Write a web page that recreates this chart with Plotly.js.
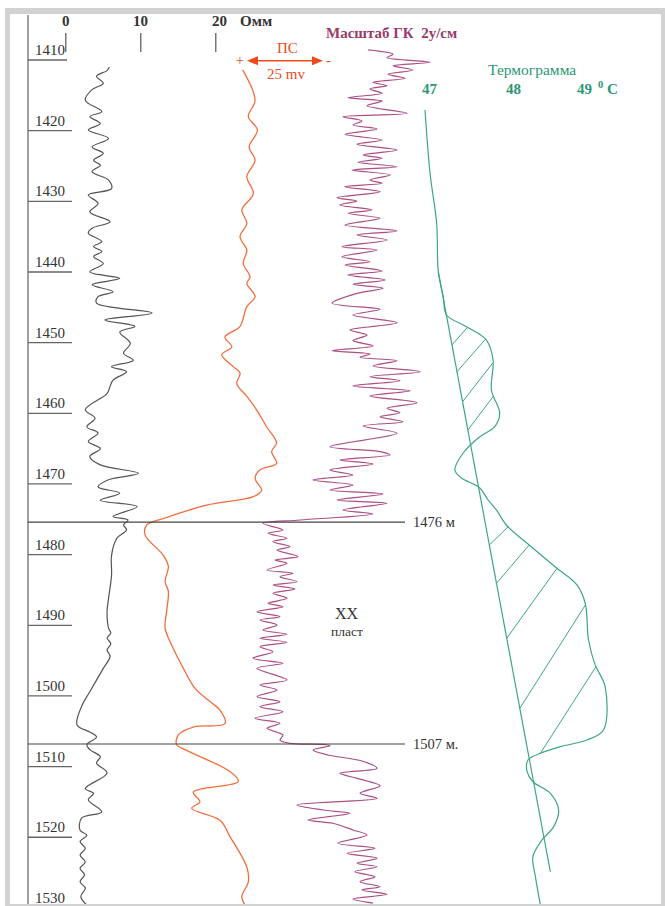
<!DOCTYPE html>
<html>
<head>
<meta charset="utf-8">
<script src="https://cdn.plot.ly/plotly-3.0.1.min.js"></script>
<style>html,body{margin:0;padding:0;background:#fff;}#chart{width:665px;height:906px;}</style>
</head>
<body>
<div id="chart"></div>
<script>
// ---------- DATA ----------
const depthTicks = [1410,1420,1430,1440,1450,1460,1470,1480,1490,1500,1510,1520,1530];
const resTicks = [0,10,20];
const tempTicks = [47,48,49];
const zoneDepths = [1475.4,1506.8];
const zoneLabels = ['1476 м','1507 м.'];

// Resistivity (Ohm·m)
const resDepth = [1411.0,1411.5,1412.3,1413.3,1414.2,1415.7,1417.3,1418.0,1419.0,1419.9,1421.1,1422.3,1423.2,1424.2,1424.9,1425.8,1427.0,1428.2,1429.1,1430.3,1431.5,1432.9,1433.8,1434.5,1435.7,1436.4,1437.1,1437.8,1438.8,1440.0,1440.9,1441.8,1442.8,1443.5,1444.4,1445.8,1446.8,1447.7,1448.5,1450.1,1451.5,1452.5,1453.4,1454.1,1455.3,1456.2,1457.2,1459.5,1460.7,1461.9,1462.8,1464.0,1465.0,1466.1,1467.3,1468.5,1469.4,1470.4,1471.3,1472.3,1473.2,1474.6,1475.1,1475.8,1476.5,1477.7,1480.1,1482.9,1486.2,1488.1,1490.4,1491.1,1491.8,1492.6,1493.5,1494.4,1496.1,1499.4,1501.5,1504.1,1505.1,1505.8,1506.9,1507.6,1508.6,1509.5,1510.9,1513.1,1513.8,1514.7,1516.4,1517.3,1519.0,1519.7,1520.6,1521.6,1522.5,1523.5,1524.4,1525.3,1526.3,1527.2,1528.4,1529.6];
const resOhm = [5.8,5.5,4.1,5.0,3.5,2.6,4.8,3.2,4.6,3.0,5.7,3.5,5.0,3.7,4.6,3.5,5.7,6.1,3.0,4.3,3.2,5.9,3.5,3.0,4.8,3.7,4.8,3.7,5.0,3.2,7.2,3.5,6.3,4.3,4.1,11.5,5.2,9.2,7.2,8.6,7.7,9.0,6.1,8.1,6.3,5.9,5.5,2.6,3.9,2.8,4.3,3.0,4.6,3.2,4.6,9.7,5.7,4.3,7.2,4.6,9.5,6.3,8.3,7.7,8.1,6.8,6.1,6.1,5.7,5.5,5.7,6.0,5.5,6.0,5.5,5.9,5.0,3.2,2.1,1.5,3.2,4.1,2.8,3.2,4.6,4.1,5.5,2.6,3.7,3.0,4.8,2.1,1.9,2.8,1.9,2.6,1.9,2.6,1.9,2.5,1.9,2.6,2.0,2.8];

// SP / ПС (mV, relative to "+" mark; positive to the left)
const psDepth = [1411.4,1415.7,1418.0,1419.9,1422.3,1424.2,1426.5,1428.9,1431.2,1433.1,1435.0,1436.9,1438.8,1440.7,1441.6,1443.5,1444.9,1447.7,1449.2,1450.6,1451.7,1453.4,1454.3,1455.8,1457.6,1459.5,1461.9,1464.2,1465.4,1467.1,1468.0,1469.2,1470.9,1471.8,1473.0,1474.9,1475.8,1477.2,1480.1,1481.7,1483.8,1485.2,1488.1,1490.4,1492.8,1496.1,1498.9,1500.8,1502.0,1503.9,1504.4,1505.5,1506.9,1507.6,1510.7,1512.1,1513.6,1515.0,1515.9,1517.6,1519.9,1524.2,1526.3,1528.4,1529.6];
const psMv = [1.8,-2.4,-0.1,-3.2,-0.4,-2.4,0.4,-1.8,2.1,0.4,2.7,0.4,1.6,-0.7,0.4,-2.4,0.4,2.7,7.8,5.5,8.9,5.0,2.7,3.8,0.4,-2.9,-6.3,-9.7,-8.0,-9.7,-4.1,-2.4,-4.6,-1.8,14.0,28.7,34.3,34.9,28.7,27.0,28.1,27.0,27.6,28.1,25.9,21.9,18.0,12.9,9.5,7.8,18.5,23.6,24.2,21.4,6.1,3.3,18.5,16.3,19.1,9.5,6.1,0.4,-0.1,2.1,1.0];

// Gamma log / ГК (units)
const gkDepth = [1408.58,1409.19,1409.67,1410.33,1410.81,1411.42,1412.02,1412.59,1413.16,1413.64,1414.10,1414.71,1415.34,1415.80,1416.47,1417.54,1418.02,1418.63,1419.20,1419.76,1420.52,1421.32,1421.93,1422.74,1423.44,1423.91,1424.48,1425.10,1425.57,1426.27,1426.98,1427.45,1427.93,1428.64,1429.49,1429.95,1430.52,1431.23,1431.70,1432.40,1433.35,1434.20,1434.77,1435.47,1436.42,1436.89,1437.84,1438.54,1439.01,1439.86,1440.43,1441.13,1441.74,1442.31,1443.02,1444.43,1445.28,1446.09,1447.18,1448.21,1448.92,1449.72,1450.47,1451.14,1451.61,1452.07,1452.56,1453.31,1454.11,1454.82,1455.39,1456.14,1456.80,1457.55,1458.50,1459.29,1459.92,1460.48,1461.19,1461.80,1462.83,1464.73,1465.43,1465.90,1466.61,1467.17,1468.02,1468.73,1469.44,1470.14,1470.85,1471.42,1472.27,1472.74,1473.68,1474.25,1475.10,1475.57,1476.51,1476.98,1477.69,1478.17,1478.88,1479.35,1480.29,1480.76,1481.23,1482.18,1482.64,1483.12,1483.83,1484.30,1484.86,1485.47,1486.18,1486.89,1487.37,1488.08,1488.78,1489.25,1489.96,1490.67,1491.28,1491.84,1492.41,1493.03,1493.74,1494.67,1495.38,1496.09,1497.74,1498.45,1499.16,1500.11,1500.81,1501.52,1502.23,1503.16,1503.87,1504.58,1505.53,1506.24,1506.71,1506.85,1507.05,1507.65,1508.36,1509.21,1510.24,1510.95,1511.66,1512.70,1513.78,1514.49,1515.43,1516.14,1516.61,1517.56,1518.02,1518.97,1519.68,1520.85,1521.56,1522.27,1522.98,1523.68,1524.17,1524.87,1525.58,1526.29,1527.00,1527.46,1528.07,1528.74,1529.31];
const gkVal = [12.8,15.3,14.7,19.0,15.3,17.3,14.8,16.5,13.3,14.7,13.0,14.2,10.8,14.2,12.7,16.7,10.3,12.2,11.3,13.7,10.5,14.2,11.7,15.7,12.3,14.2,11.8,15.7,11.2,15.0,13.0,14.2,10.5,14.0,9.7,11.7,10.0,13.2,10.8,14.0,10.5,15.7,11.7,14.7,10.2,13.7,10.2,13.0,10.5,14.2,10.8,14.5,11.3,14.3,11.7,9.2,14.0,11.3,15.7,11.0,12.7,11.3,13.3,9.2,13.0,12.0,15.7,13.3,18.0,13.0,16.0,11.3,17.0,13.0,17.7,14.7,16.0,14.0,16.3,12.3,15.7,9.0,14.0,15.0,10.0,13.3,9.0,11.3,7.3,11.3,9.0,14.3,9.7,14.7,10.3,13.3,6.0,2.3,4.3,2.8,4.7,3.3,5.0,3.7,5.8,3.5,4.7,2.7,5.3,4.0,5.7,3.3,5.5,3.3,4.7,2.8,4.3,1.7,4.0,2.0,3.7,2.3,4.7,2.0,4.7,2.0,3.3,1.3,4.3,1.7,4.7,2.0,3.7,1.7,4.0,2.0,4.3,1.5,4.0,2.7,4.3,4.0,5.0,8.3,9.0,7.3,8.8,12.2,13.7,10.0,11.7,14.0,12.0,13.7,5.7,8.3,11.0,6.8,9.3,11.3,12.7,9.8,13.5,10.7,13.7,11.7,13.7,11.5,13.5,12.0,14.0,12.2,14.7,11.3,13.3];

// Thermogram (°C)
const thermoDepth = [1417.08,1425.99,1433.07,1439.96,1443.50,1446.09,1447.74,1449.63,1452.46,1456.70,1459.96,1461.90,1463.31,1465.62,1468.02,1469.16,1470.57,1472.27,1473.68,1475.81,1478.40,1481.93,1484.29,1486.88,1492.08,1495.61,1498.69,1504.82,1506.24,1507.18,1508.12,1509.07,1510.72,1512.14,1513.78,1516.14,1518.50,1520.38,1522.75,1525.58,1529.59];
const thermoC = [46.94,47.00,47.08,47.10,47.16,47.20,47.44,47.68,47.76,47.74,47.84,47.78,47.60,47.40,47.30,47.38,47.60,47.70,47.80,47.92,48.17,48.53,48.77,48.87,48.91,48.99,49.11,49.09,48.89,48.57,48.33,48.18,48.17,48.24,48.45,48.55,48.49,48.35,48.24,48.27,48.33];
// Geothermal base line
const baseDepth = [1439.96,1524.88];
const baseC = [47.10,48.45];
// Hatching between base line and thermogram
const hatchFromDepth = [1450.33,1454.11,1458.36,1462.36,1478.64,1484.06,1491.84,1501.75,1508.12];
const hatchFromOn = ['base','base','base','base','base','base','base','base','curve'];
const hatchToDepth = [1447.83,1449.53,1452.84,1457.55,1476.05,1478.64,1481.93,1487.13,1495.86];

// ---------- HELPERS ----------
const W = 665, H = 906;
const px = x => x / W;
const py = y => 1 - y / H;
function interp(ds, vs, d) {
  if (d <= ds[0]) return vs[0];
  for (let i = 1; i < ds.length; i++) {
    if (d <= ds[i]) {
      const t = (d - ds[i-1]) / (ds[i] - ds[i-1]);
      return vs[i-1] + t * (vs[i] - vs[i-1]);
    }
  }
  return vs[vs.length-1];
}
const serif = 'Liberation Serif, Times New Roman, serif';
const cRes = '#555555', cPS = '#f26d3d', cPSArrow = '#ee4a1c', cGK = '#ab4f84', cTh = '#3ea684';
const cGKText = '#9a3a6c', cThText = '#2b9773';

// hatch trace
const hx = [], hy = [];
for (let i = 0; i < hatchFromDepth.length; i++) {
  const d1 = hatchFromDepth[i], d2 = hatchToDepth[i];
  const t1 = hatchFromOn[i] === 'base' ? interp(baseDepth, baseC, d1) : interp(thermoDepth, thermoC, d1);
  const t2 = interp(thermoDepth, thermoC, d2);
  hx.push(t1, t2, null); hy.push(d1, d2, null);
}

const traces = [
  {x: resOhm, y: resDepth, xaxis: 'x', yaxis: 'y', mode: 'lines', line: {color: cRes, width: 1.2, shape: 'spline', smoothing: 1}},
  {x: psMv, y: psDepth, xaxis: 'x2', yaxis: 'y', mode: 'lines', line: {color: cPS, width: 1.3, shape: 'spline', smoothing: 1}},
  {x: gkVal, y: gkDepth, xaxis: 'x3', yaxis: 'y', mode: 'lines', line: {color: cGK, width: 1.2, shape: 'spline', smoothing: 0.9}},
  {x: thermoC, y: thermoDepth, xaxis: 'x4', yaxis: 'y', mode: 'lines', line: {color: cTh, width: 1.2, shape: 'spline', smoothing: 1}},
  {x: baseC, y: baseDepth, xaxis: 'x4', yaxis: 'y', mode: 'lines', line: {color: cTh, width: 1.2}},
  {x: hx, y: hy, xaxis: 'x4', yaxis: 'y', mode: 'lines', line: {color: cTh, width: 1}, connectgaps: false}
];

// ---------- LAYOUT ----------
const yTop = 1410 - 60/7.066, yBot = 1410 + (H-60)/7.066;
const shapes = [];
const annotations = [];
// frame
const frameCol = '#d2d2d2';
[[5,8,10,906],[5,8,665,14],[661,8,665,906],[5,904,665,906]].forEach(r => {
  shapes.push({type:'rect', xref:'paper', yref:'paper', x0:px(r[0]), x1:px(r[2]), y0:py(r[1]), y1:py(r[3]), fillcolor:frameCol, line:{width:0}, layer:'above'});
});
// depth axis line
shapes.push({type:'line', xref:'paper', yref:'paper', x0:px(28), x1:px(28), y0:py(15), y1:py(904), line:{color:'#777', width:1.4}});
// depth ticks and labels
depthTicks.forEach((d, i) => {
  const inside = d < yBot;
  if (inside) shapes.push({type:'line', xref:'paper', yref:'y', x0:px(28), x1:px(i === 0 ? 67 : 72), y0:d, y1:d, line:{color:'#666', width:1.3}});
  const yd = inside ? d : yBot - 0.01;
  const shift = inside ? 10 : 10 - (d - yd) * 7.066;
  annotations.push({xref:'paper', yref:'y', x:px(33), y:yd, xanchor:'left', yanchor:'middle', yshift:shift, text:String(d), showarrow:false, font:{family:serif, size:15, color:'#333'}});
});
// resistivity scale
resTicks.forEach(v => {
  shapes.push({type:'line', xref:'x', yref:'paper', x0:v, x1:v, y0:py(33), y1:py(52), line:{color:'#555', width:1.2}});
  annotations.push({xref:'x', yref:'paper', x:v, y:py(21.5), xanchor:'center', yanchor:'middle', xshift: v === 20 ? 4 : 0, text:'<b>' + v + '</b>', showarrow:false, font:{family:serif, size:15, color:'#333'}});
});
annotations.push({xref:'paper', yref:'paper', x:px(238), y:py(21.5), xanchor:'left', yanchor:'middle', text:'<b>Омм</b>', showarrow:false, font:{family:serif, size:15, color:'#333'}});
// PS scale
annotations.push({xref:'paper', yref:'paper', x:px(287), y:py(48), xanchor:'center', yanchor:'middle', text:'ПС', showarrow:false, font:{family:serif, size:15, color:cPSArrow}});
annotations.push({xref:'paper', yref:'paper', x:px(286), y:py(73.5), xanchor:'center', yanchor:'middle', text:'25 mv', showarrow:false, font:{family:serif, size:15, color:cPSArrow}});
annotations.push({xref:'paper', yref:'paper', x:px(240.5), y:py(60.5), xanchor:'center', yanchor:'middle', text:'+', showarrow:false, font:{family:serif, size:14, color:cPSArrow}});
annotations.push({xref:'paper', yref:'paper', x:px(328), y:py(60.5), xanchor:'center', yanchor:'middle', text:'-', showarrow:false, font:{family:serif, size:15, color:cPSArrow}});
// double arrow (25 mV scale)
const ay0 = 60.7;
shapes.push({type:'line', xref:'paper', yref:'paper', x0:px(254), x1:px(316), y0:py(ay0), y1:py(ay0), line:{color:cPSArrow, width:1.5}});
shapes.push({type:'path', xref:'paper', yref:'paper', path:`M ${px(247)} ${py(ay0)} L ${px(258)} ${py(ay0-4.5)} L ${px(258)} ${py(ay0+4.5)} Z`, fillcolor:cPSArrow, line:{width:0}});
shapes.push({type:'path', xref:'paper', yref:'paper', path:`M ${px(323)} ${py(ay0)} L ${px(312)} ${py(ay0-4.5)} L ${px(312)} ${py(ay0+4.5)} Z`, fillcolor:cPSArrow, line:{width:0}});
// GK title
annotations.push({xref:'paper', yref:'paper', x:px(324), y:py(33), xanchor:'left', yanchor:'middle', text:'<b>Масштаб ГК  2у/см</b>', showarrow:false, font:{family:serif, size:15, color:cGKText}});
// Thermogram title & scale
annotations.push({xref:'paper', yref:'paper', x:px(532), y:py(70), xanchor:'center', yanchor:'middle', text:'Термограмма', showarrow:false, font:{family:serif, size:15.5, color:cThText}});
tempTicks.forEach(v => {
  annotations.push({xref:'x4', yref:'paper', x:v, y:py(89), xanchor:'center', yanchor:'middle', xshift: v === 49 ? -12 : 0, text:'<b>' + v + '</b>', showarrow:false, font:{family:serif, size:15, color:cThText}});
});
annotations.push({xref:'paper', yref:'paper', x:px(596), y:py(88), xanchor:'left', yanchor:'middle', text:'<b><sup>0</sup> C</b>', showarrow:false, font:{family:serif, size:15, color:cThText}});
// zone boundaries
zoneDepths.forEach((d, i) => {
  shapes.push({type:'line', xref:'paper', yref:'y', x0:px(28), x1:px(405), y0:d, y1:d, line:{color:'#444', width:1.2}});
  annotations.push({xref:'paper', yref:'y', x:px(411), y:d, xanchor:'left', yanchor:'middle', text:zoneLabels[i], showarrow:false, font:{family:serif, size:14.5, color:'#333'}});
});
annotations.push({xref:'paper', yref:'paper', x:px(347), y:py(613.5), xanchor:'center', yanchor:'middle', text:'XX', showarrow:false, font:{family:serif, size:16, color:'#333'}});
annotations.push({xref:'paper', yref:'paper', x:px(347), y:py(631), xanchor:'center', yanchor:'middle', text:'пласт', showarrow:false, font:{family:serif, size:13.5, color:'#333'}});

const hiddenX = r => ({range: r, visible: false, showgrid: false, zeroline: false, fixedrange: true});
const layout = {
  width: W, height: H, autosize: false,
  margin: {l:0, r:0, t:0, b:0, pad:0},
  paper_bgcolor: '#ffffff', plot_bgcolor: '#ffffff',
  showlegend: false, hovermode: false,
  xaxis: Object.assign(hiddenX([-65.8/7.5, (W-65.8)/7.5]), {domain:[0,1], anchor:'y'}),
  xaxis2: Object.assign(hiddenX([248/2.95, -(W-248)/2.95]), {overlaying:'x', anchor:'y'}),
  xaxis3: Object.assign(hiddenX([-24, 42.5]), {overlaying:'x', anchor:'y'}),
  xaxis4: Object.assign(hiddenX([47 - 430/83, 47 + (W-430)/83]), {overlaying:'x', anchor:'y'}),
  yaxis: {range:[yBot, yTop], visible:false, showgrid:false, zeroline:false, domain:[0,1], fixedrange:true},
  shapes: shapes,
  annotations: annotations
};
Plotly.newPlot('chart', traces, layout, {displayModeBar:false, staticPlot:true});
</script>
</body>
</html>
